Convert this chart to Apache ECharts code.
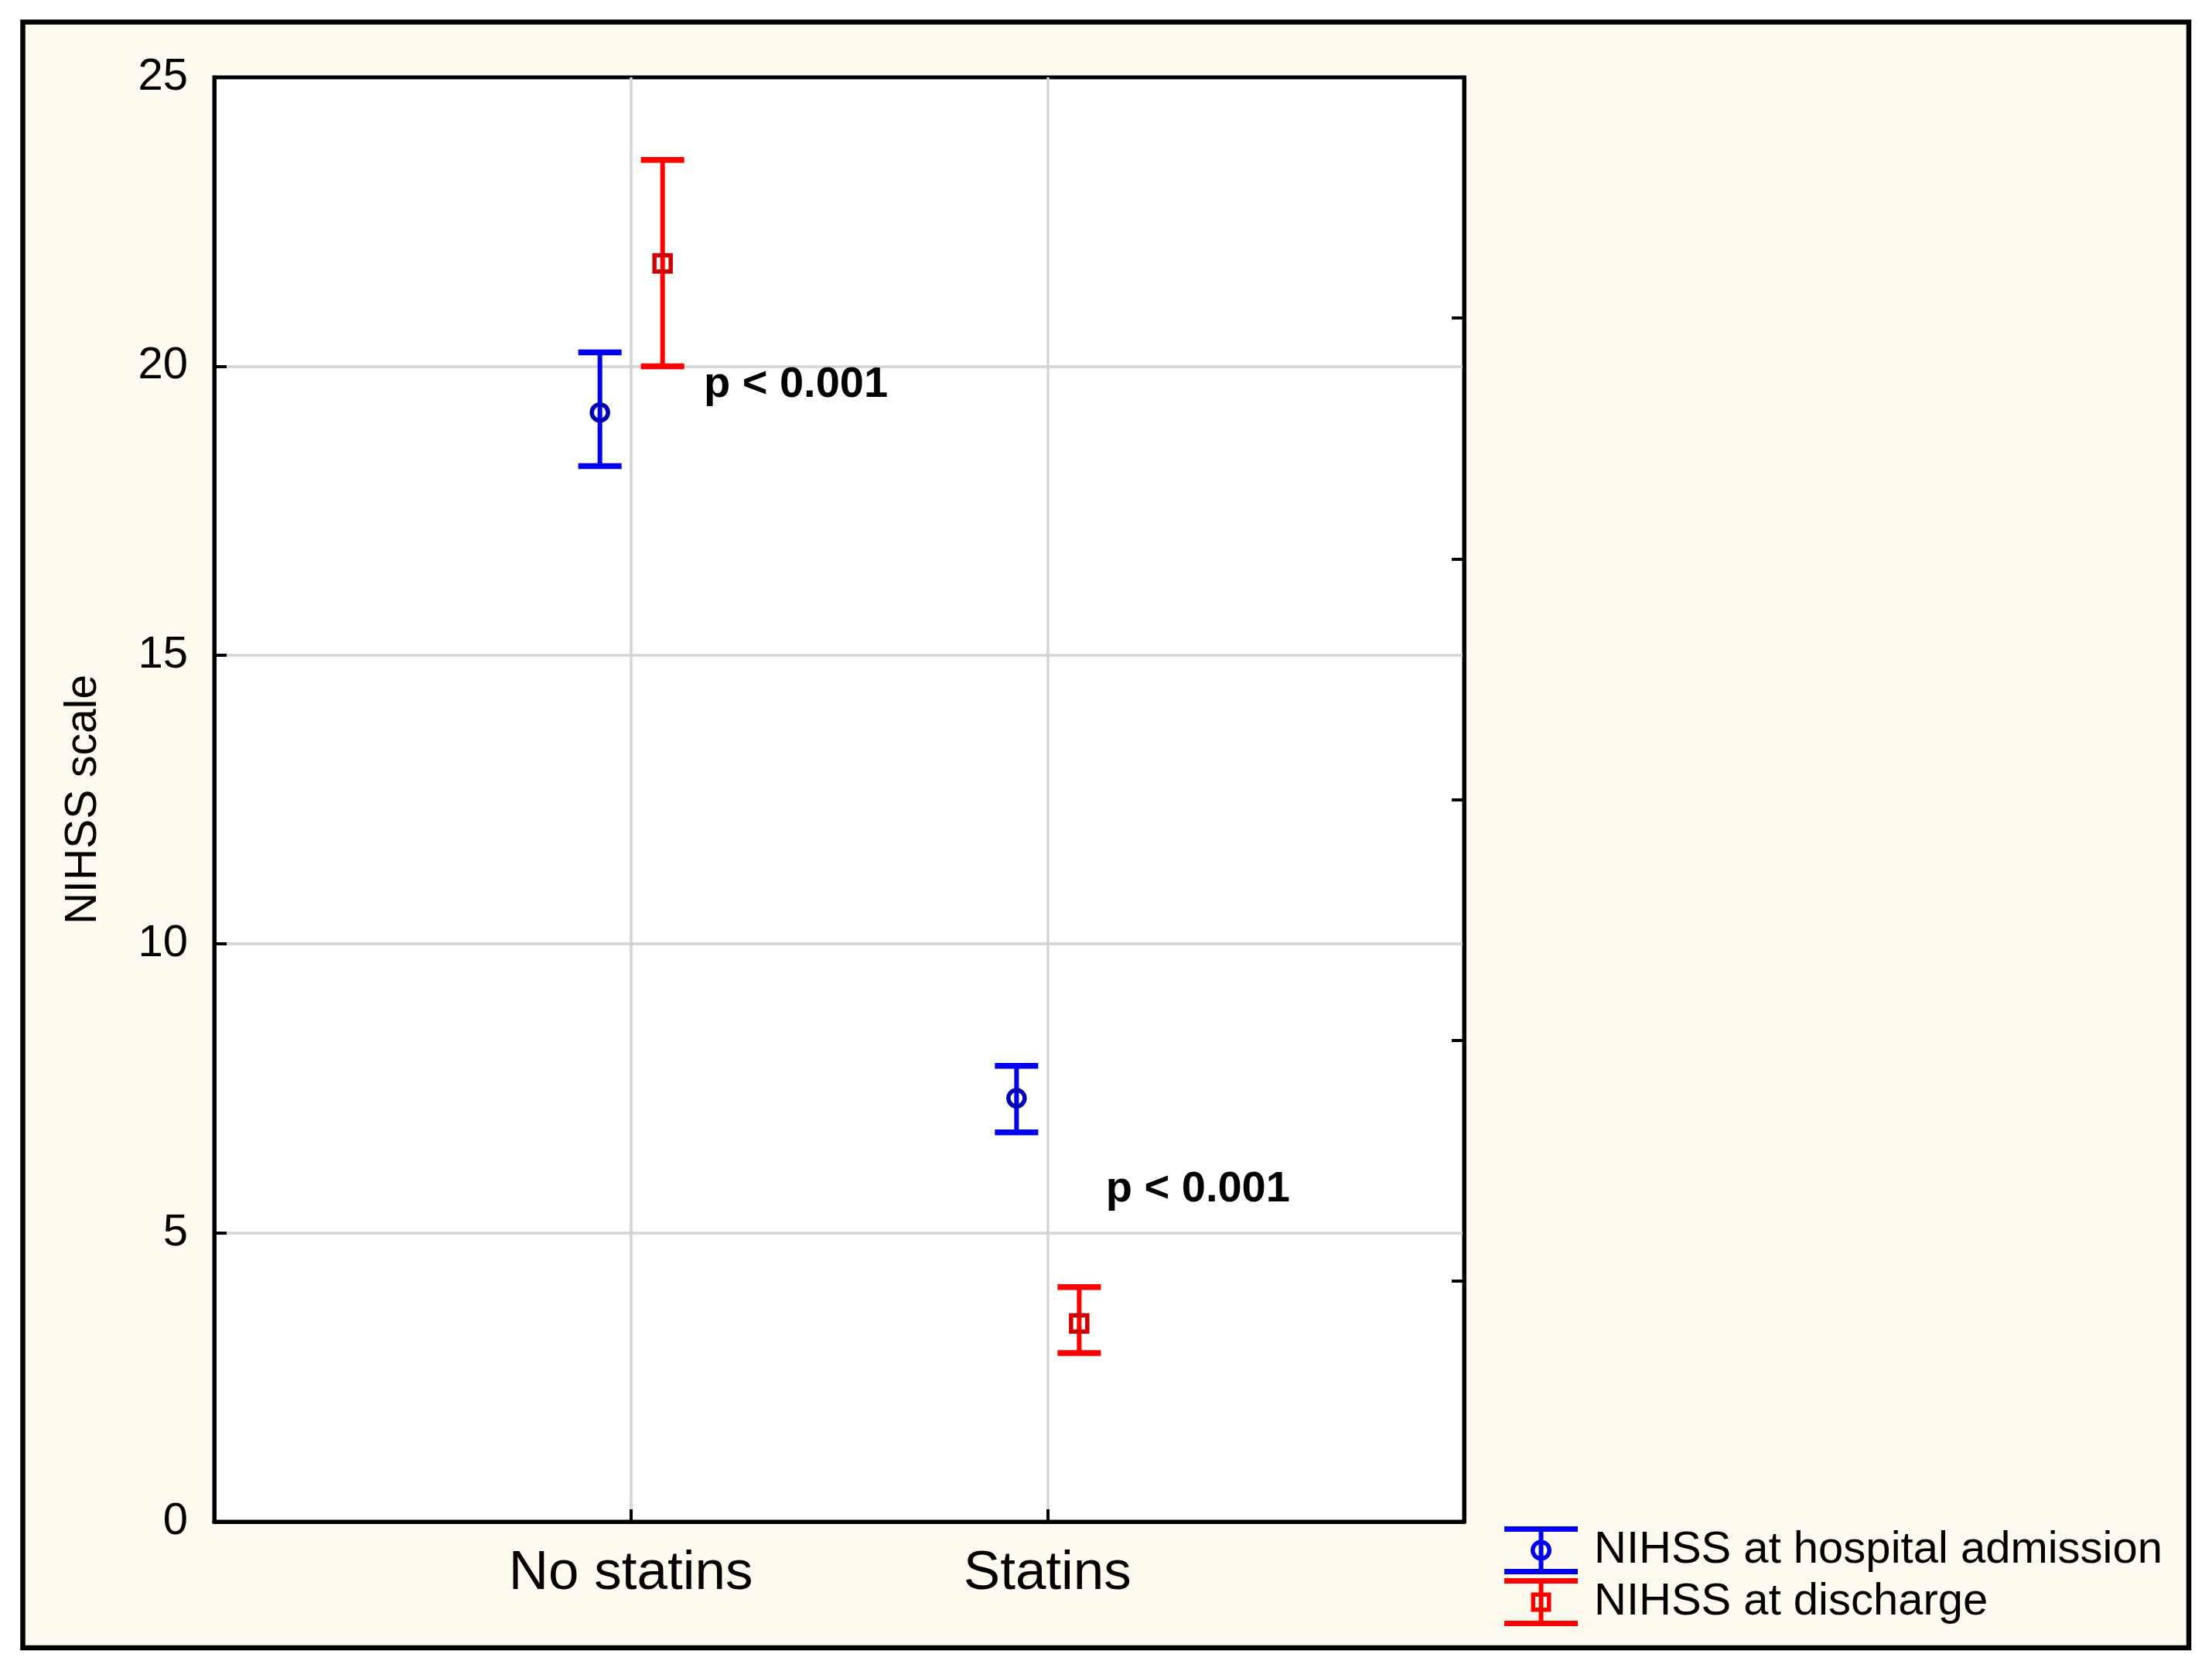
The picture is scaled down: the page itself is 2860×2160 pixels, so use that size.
<!DOCTYPE html>
<html>
<head>
<meta charset="utf-8">
<script src="https://cdn.jsdelivr.net/npm/echarts@6/dist/echarts.min.js"></script>
<style>
html,body{margin:0;padding:0;background:#ffffff;}
#chart{width:2860px;height:2160px;}
</style>
</head>
<body>
<div id="chart"></div>
<script>
// ---- data ----
const categories = ['No statins', 'Statins'];
const yTicks = [0, 5, 10, 15, 20, 25];
const admissionMean = [19.2, 7.33];
const admissionLow  = [18.27, 6.74];
const admissionHigh = [20.24, 7.89];
const dischargeMean = [21.78, 3.43];
const dischargeLow  = [20.0, 2.92];
const dischargeHigh = [23.57, 4.06];
const seriesNames = ['NIHSS at hospital admission', 'NIHSS at discharge'];
const pLabels = ['p < 0.001', 'p < 0.001'];
const pAnchorX = [1.175, 2.14];
const pAnchorY = [19.67, 5.75];

// ---- build ----
const FONT = "'Liberation Sans', Arial, Helvetica, sans-serif";
function rows(mean, low, high) {
  return categories.map((c, i) => [i + 1, low[i], high[i], mean[i]]);
}
function errorBar(markerKind, offsetPx, markerColor) {
  return function (params, api) {
    const x = api.value(0);
    const pLo = api.coord([x, api.value(1)]);
    const pHi = api.coord([x, api.value(2)]);
    const pM = api.coord([x, api.value(3)]);
    const cx = pM[0] + offsetPx;
    const color = api.visual('color');
    const half = 28;
    const children = [
      { type: 'line', shape: { x1: cx, y1: pHi[1], x2: cx, y2: pLo[1] }, style: { stroke: color, lineWidth: 6 } },
      { type: 'line', shape: { x1: cx - half, y1: pHi[1], x2: cx + half, y2: pHi[1] }, style: { stroke: color, lineWidth: 7.5 } },
      { type: 'line', shape: { x1: cx - half, y1: pLo[1], x2: cx + half, y2: pLo[1] }, style: { stroke: color, lineWidth: 7.5 } }
    ];
    if (markerKind === 'circle') {
      children.push({ type: 'circle', shape: { cx: cx, cy: pM[1], r: 10.5 }, style: { fill: 'none', stroke: markerColor, lineWidth: 5.5 } });
    } else {
      children.push({ type: 'rect', shape: { x: cx - 10.5, y: pM[1] - 10.5, width: 21, height: 21 }, style: { fill: 'none', stroke: markerColor, lineWidth: 5.5 } });
    }
    return { type: 'group', children: children };
  };
}
const iconCircle = 'path://M0 0H95V7H0Z M44.5 7H50.5V55H44.5Z M0 55H95V62H0Z M34 31A13.5 13.5 0 1 1 61 31A13.5 13.5 0 1 1 34 31Z M39.5 31A8 8 0 1 0 55.5 31A8 8 0 1 0 39.5 31Z';
const iconSquare = 'path://M0 0H95V7H0Z M44.5 7H50.5V55H44.5Z M0 55H95V62H0Z M34.5 18.5H60.5V43.5H34.5Z M40 24V38H55V24Z';

const chart = echarts.init(document.getElementById('chart'), null, { renderer: 'canvas' });
chart.setOption({
  animation: false,
  backgroundColor: '#ffffff',
  graphic: [{
    type: 'rect', z: -100, silent: true,
    shape: { x: 29.5, y: 28.5, width: 2800.5, height: 2101.5 },
    style: { fill: '#fffaf0', stroke: '#000000', lineWidth: 6.5 }
  }],
  grid: {
    left: 277, top: 100, right: 967, bottom: 193,
    show: true, backgroundColor: '#ffffff', borderColor: '#000000', borderWidth: 5
  },
  legend: {
    orient: 'vertical', left: 1940, top: 1968,
    itemWidth: 95, itemHeight: 62, itemGap: 5,
    selectedMode: false,
    textStyle: { fontFamily: FONT, fontSize: 58, color: '#000000', padding: [0, 0, 0, 16] },
    data: [
      { name: seriesNames[0], icon: iconCircle },
      { name: seriesNames[1], icon: iconSquare }
    ]
  },
  xAxis: {
    type: 'value', min: 0, max: 3, interval: 1,
    axisLine: { show: true, lineStyle: { color: '#000000', width: 5 } },
    axisTick: { show: true, inside: true, length: 16, lineStyle: { color: '#000000', width: 4 } },
    axisLabel: {
      fontFamily: FONT, fontSize: 71, color: '#000000', margin: 32,
      formatter: v => categories[v - 1] || ''
    },
    splitLine: { show: true, showMinLine: false, showMaxLine: false, lineStyle: { color: '#d4d4d4', width: 3.5 } }
  },
  yAxis: [{
    type: 'value', min: yTicks[0], max: yTicks[yTicks.length - 1], interval: yTicks[1] - yTicks[0],
    name: 'NIHSS scale', nameLocation: 'middle', nameRotate: 90, nameGap: 140,
    nameTextStyle: { fontFamily: FONT, fontSize: 57, color: '#000000' },
    axisLine: { show: true, lineStyle: { color: '#000000', width: 5 } },
    axisTick: { show: true, inside: true, length: 16, lineStyle: { color: '#000000', width: 4 } },
    axisLabel: { fontFamily: FONT, fontSize: 58, color: '#000000', margin: 34 },
    splitLine: { show: true, showMinLine: false, showMaxLine: false, lineStyle: { color: '#d4d4d4', width: 3.5 } }
  }, {
    type: 'value', position: 'right', min: 0, max: 25, interval: 25 / 6,
    axisLine: { show: true, lineStyle: { color: '#000000', width: 5 } },
    axisTick: { show: true, inside: true, length: 16, lineStyle: { color: '#000000', width: 4 } },
    axisLabel: { show: false },
    splitLine: { show: false }
  }],
  series: [{
    name: seriesNames[0], type: 'custom', itemStyle: { color: '#0000ee' },
    renderItem: errorBar('circle', -40, '#0000b4'),
    encode: { x: 0, y: [1, 2, 3] },
    data: rows(admissionMean, admissionLow, admissionHigh), z: 5
  }, {
    name: seriesNames[1], type: 'custom', itemStyle: { color: '#ff0000' },
    renderItem: errorBar('square', 41, '#d00000'),
    encode: { x: 0, y: [1, 2, 3] },
    data: rows(dischargeMean, dischargeLow, dischargeHigh), z: 5
  }, {
    name: 'annotations', type: 'scatter', symbolSize: 0, silent: true,
    itemStyle: { opacity: 1 },
    data: pLabels.map((t, i) => ({ value: [pAnchorX[i], pAnchorY[i]], name: t })),
    label: {
      show: true, position: [0, 0], align: 'left', verticalAlign: 'middle',
      formatter: p => p.name, opacity: 1,
      fontFamily: "'Liberation Sans', Arial, sans-serif", fontSize: 56, fontWeight: 'bold', color: '#000000'
    },
    z: 6
  }]
});
</script>
</body>
</html>
